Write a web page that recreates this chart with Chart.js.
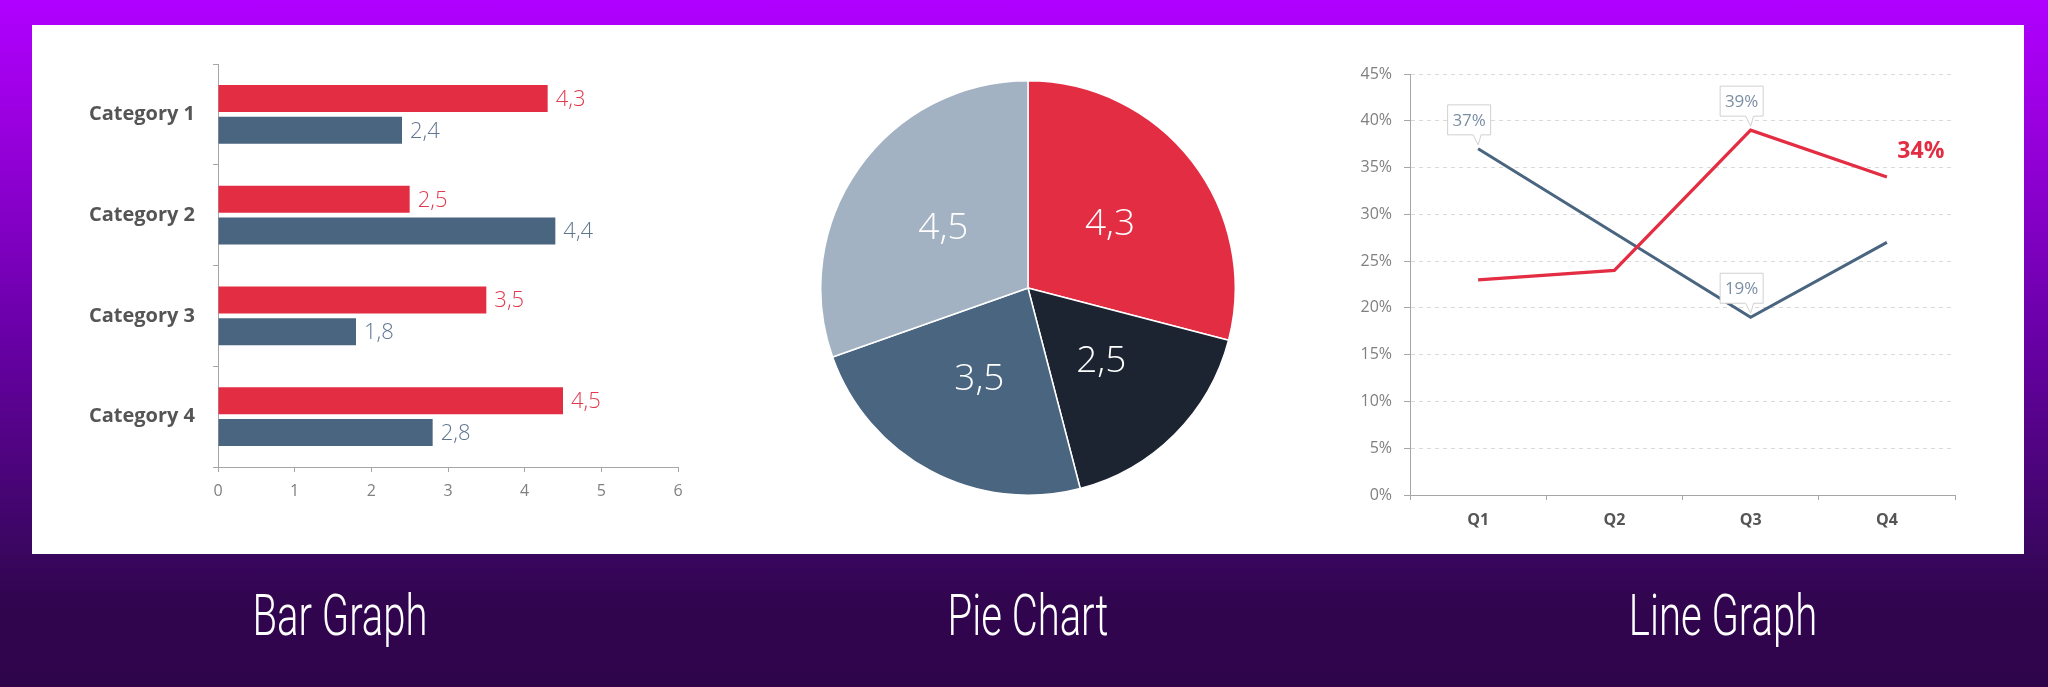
<!DOCTYPE html>
<html lang="en">
<head>
  <meta charset="UTF-8" />
  <title>Bar Graph / Pie Chart / Line Graph</title>
  <style>
    html, body { margin: 0; padding: 0; }
    body {
      width: 2048px; height: 687px; overflow: hidden; position: relative;
      background: linear-gradient(180deg, #b000ff 0px, #9a00e0 120px, #6a00a8 330px, #3c0664 540px, #31054f 600px, #2e044a 687px);
      font-family: "Open Sans", sans-serif;
    }
    #panel { position: absolute; left: 32px; top: 25px; width: 1992px; height: 529px; background: #fff; }
    .box { position: absolute; }
    .title {
      position: absolute; top: 580px; color: #fff; font-family: Roboto, sans-serif; font-weight: 300;
      font-size: 58px; line-height: 70px; white-space: nowrap; transform: translateX(-50%) scaleX(0.69);
    }
  </style>
</head>
<body>

<div id="panel"></div>
<div class="box" style="left:33px; top:26px; width:700px; height:528px;"><canvas id="bar"></canvas></div>
<div class="box" style="left:820px; top:80px; width:416px; height:416px;"><canvas id="pie"></canvas></div>
<div class="box" style="left:1320px; top:26px; width:680px; height:528px;"><canvas id="line"></canvas></div>

<div class="title" style="left:340px;">Bar Graph</div>
<div class="title" style="left:1028px;">Pie Chart</div>
<div class="title" style="left:1723px;">Line Graph</div>

<script src="https://cdn.jsdelivr.net/npm/chart.js"></script>
<script>
// bar graph
const barCategories = ['Category 1', 'Category 2', 'Category 3', 'Category 4'];
const barRed = [4.3, 2.5, 3.5, 4.5];
const barBlue = [2.4, 4.4, 1.8, 2.8];

// pie chart (clockwise from 12 o'clock)
const pieLabels = ['Slice 1', 'Slice 2', 'Slice 3', 'Slice 4'];
const pieValues = [4.3, 2.5, 3.5, 4.5];

// line graph
const quarters = ['Q1', 'Q2', 'Q3', 'Q4'];
const lineRed = [23, 24, 39, 34];
const lineBlue = [37, 28, 19, 27];
const pctTicks = [0, 5, 10, 15, 20, 25, 30, 35, 40, 45];
const callouts = [[1, 0], [0, 2], [1, 2]];   // [dataset, point]
const endLabel = [0, 3];

const RED = '#e32d42';
const BLUE = '#4a6580';
const axisGray = '#a6a6a6';
const tickGray = '#808080';

Chart.defaults.font.family = '"Open Sans", sans-serif';
Chart.defaults.animation = false;
Chart.defaults.plugins.legend.display = false;
Chart.defaults.plugins.tooltip.enabled = false;
Chart.defaults.maintainAspectRatio = false;

const comma = v => v.toFixed(1).replace('.', ',');

// values printed at the end of each bar
const barLabels = {
  id: 'barLabels',
  afterDatasetsDraw(chart) {
    const ctx = chart.ctx;
    const colors = ['#e0394e', '#5f7690'];
    ctx.save();
    ctx.font = '300 22px "Open Sans"';
    ctx.textBaseline = 'middle';
    chart.data.datasets.forEach((ds, i) => {
      ctx.fillStyle = colors[i];
      chart.getDatasetMeta(i).data.forEach((bar, j) => {
        ctx.fillText(comma(ds.data[j]), bar.x + 8, bar.y + 1);
      });
    });
    ctx.restore();
  }
};

new Chart(document.getElementById('bar'), {
  type: 'bar',
  data: {
    labels: barCategories,
    datasets: [
      { data: barRed, backgroundColor: RED },
      { data: barBlue, backgroundColor: BLUE }
    ]
  },
  options: {
    indexAxis: 'y',
    layout: { padding: { top: 38, right: 55, bottom: 47, left: 0 } },
    datasets: { bar: { categoryPercentage: 0.63, barPercentage: 0.85 } },
    scales: {
      y: {
        grid: { drawOnChartArea: false, tickLength: 5, tickColor: axisGray },
        border: { color: axisGray },
        ticks: { color: '#555555', padding: 18, font: { size: 20, weight: 'bold' } },
        afterFit(s) { s.width = 185; }
      },
      x: {
        min: 0, max: 6,
        grid: { drawOnChartArea: false, tickLength: 5, tickColor: axisGray },
        border: { color: axisGray },
        ticks: { stepSize: 1, color: tickGray, padding: 10, font: { size: 16 } },
        afterFit(s) { s.height = 40; }
      }
    }
  },
  plugins: [barLabels]
});

// slice values in the middle of each slice
const pieText = {
  id: 'pieText',
  afterDatasetsDraw(chart) {
    const ctx = chart.ctx;
    ctx.save();
    ctx.font = '300 37px "Open Sans"';
    ctx.fillStyle = '#ffffff';
    ctx.textAlign = 'center';
    ctx.textBaseline = 'middle';
    chart.getDatasetMeta(0).data.forEach((arc, i) => {
      const p = arc.tooltipPosition();
      ctx.fillText(comma(pieValues[i]), p.x, p.y);
    });
    ctx.restore();
  }
};

new Chart(document.getElementById('pie'), {
  type: 'pie',
  data: {
    labels: pieLabels,
    datasets: [{
      data: pieValues,
      backgroundColor: [RED, '#1c2431', BLUE, '#a3b2c3'],
      borderColor: '#ffffff',
      borderWidth: 1.5
    }]
  },
  plugins: [pieText]
});

// callout boxes and end label on the line graph
const lineNotes = {
  id: 'lineNotes',
  afterDatasetsDraw(chart) {
    const ctx = chart.ctx;
    ctx.save();
    ctx.font = '17px "Open Sans"';
    ctx.textAlign = 'center';
    ctx.textBaseline = 'middle';
    callouts.forEach(([d, i]) => {
      const pt = chart.getDatasetMeta(d).data[i];
      const v = chart.data.datasets[d].data[i];
      const w = 43, h = 30;
      const cx = pt.x - 9;
      const bottom = pt.y - 14;
      const left = cx - w / 2, top = bottom - h;
      ctx.fillStyle = '#ffffff';
      ctx.strokeStyle = '#d0d0d0';
      ctx.lineWidth = 1;
      ctx.beginPath();
      ctx.moveTo(left, top);
      ctx.lineTo(left + w, top);
      ctx.lineTo(left + w, bottom);
      ctx.lineTo(pt.x + 3, bottom);
      ctx.lineTo(pt.x, pt.y - 4);
      ctx.lineTo(pt.x - 5, bottom);
      ctx.lineTo(left, bottom);
      ctx.closePath();
      ctx.fill();
      ctx.stroke();
      ctx.fillStyle = '#7b8ea3';
      ctx.fillText(v + '%', cx, top + h / 2 + 1);
    });
    const [d, i] = endLabel;
    const pt = chart.getDatasetMeta(d).data[i];
    ctx.font = 'bold 23px "Open Sans"';
    ctx.fillStyle = RED;
    ctx.fillText(chart.data.datasets[d].data[i] + '%', pt.x + 34, pt.y - 25);
    ctx.restore();
  }
};

new Chart(document.getElementById('line'), {
  type: 'line',
  data: {
    labels: quarters,
    datasets: [
      { data: lineRed, borderColor: RED, borderWidth: 3.2, pointRadius: 0, tension: 0 },
      { data: lineBlue, borderColor: BLUE, borderWidth: 3, pointRadius: 0, tension: 0 }
    ]
  },
  options: {
    layout: { padding: { top: 48, right: 45, bottom: 14, left: 0 } },
    scales: {
      x: {
        offset: true,
        grid: { offset: true, drawOnChartArea: false, tickLength: 5, tickColor: axisGray },
        border: { color: axisGray },
        ticks: { color: '#555555', padding: 11, font: { size: 16, weight: 'bold' } },
        afterFit(s) { s.height = 45; }
      },
      y: {
        min: 0, max: 45,
        afterBuildTicks(s) { s.ticks = pctTicks.map(v => ({ value: v })); },
        grid: { color: '#d9d9d9', tickLength: 6, tickColor: axisGray },
        border: { color: axisGray, dash: [4, 4] },
        ticks: { color: tickGray, padding: 12, font: { size: 16 }, callback: v => v + '%' },
        afterFit(s) { s.width = 90; }
      }
    }
  },
  plugins: [lineNotes]
});
</script>

</body>
</html>
